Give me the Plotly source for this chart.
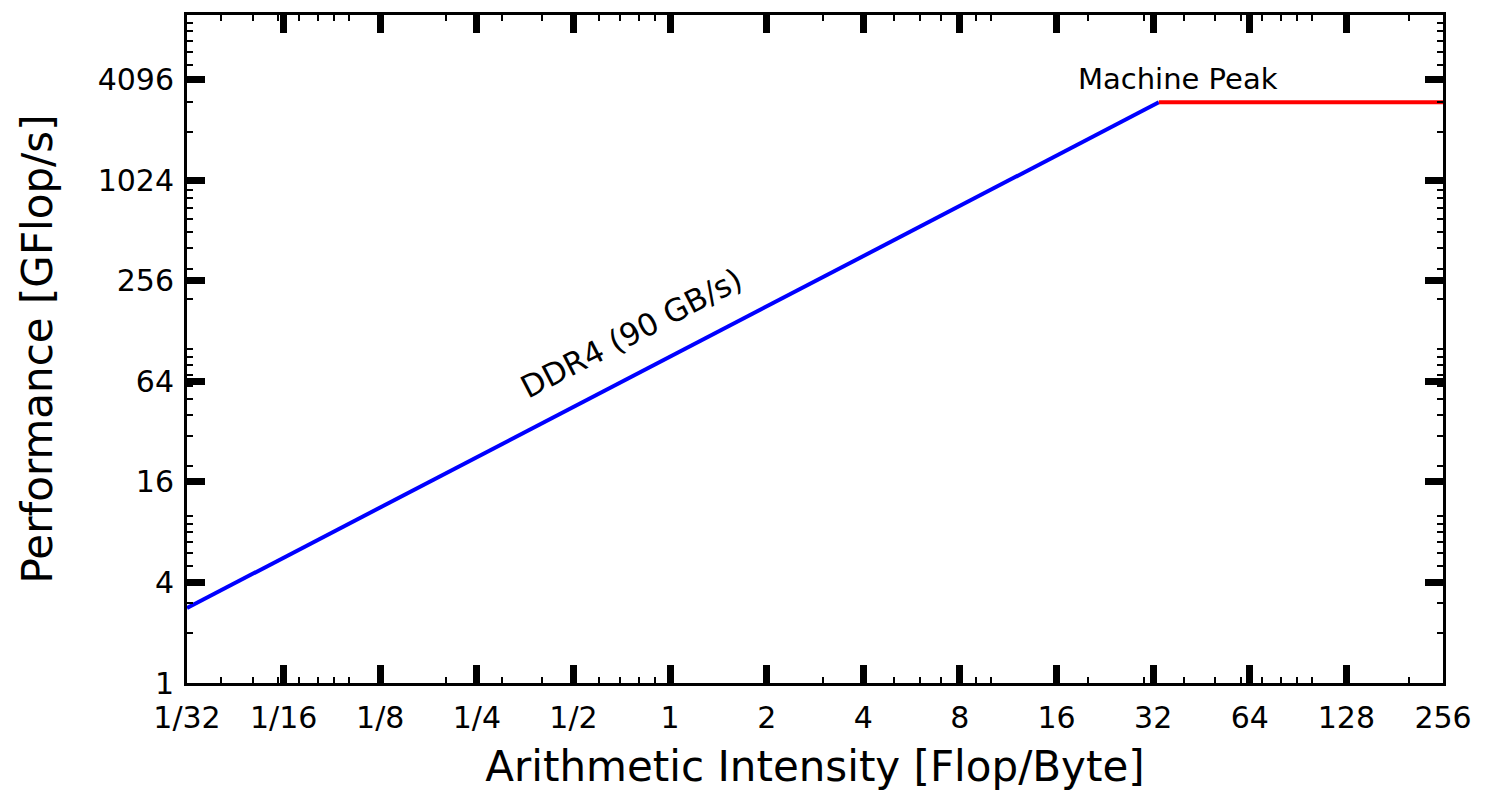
import numpy as np
import plotly.graph_objects as go

# ---- data ----
ai_tickvals = [1/32, 1/16, 1/8, 1/4, 1/2, 1, 2, 4, 8, 16, 32, 64, 128, 256]
ai_ticktext = ["1/32", "1/16", "1/8", "1/4", "1/2", "1", "2", "4", "8", "16", "32", "64", "128", "256"]
perf_tickvals = [1, 4, 16, 64, 256, 1024, 4096]
perf_ticktext = ["1", "4", "16", "64", "256", "1024", "4096"]
bandwidth_gbs = 90      # DDR4 bandwidth
peak_gflops = 3000      # machine peak
ai_min, ai_max = 1/32, 256
perf_min, perf_max = 1, 10000

ridge = peak_gflops / bandwidth_gbs
mem_x = [ai_min, ridge]
mem_y = [bandwidth_gbs * v for v in mem_x]
peak_x = [ridge, ai_max]
peak_y = [peak_gflops, peak_gflops]

def minor_vals(lo, hi, exclude):
    out = []
    for k in range(-3, 6):
        for d in range(1, 10):
            v = d * 10.0 ** k
            if lo < v < hi and all(abs(np.log2(v) - np.log2(e)) > 0.02 for e in exclude):
                out.append(v)
    return out

FONT = "DejaVu Sans"

fig = go.Figure()
fig.add_trace(go.Scatter(x=mem_x, y=mem_y, mode="lines",
                         line=dict(color="#0000ff", width=4), showlegend=False))
fig.add_trace(go.Scatter(x=peak_x, y=peak_y, mode="lines",
                         line=dict(color="#ff0000", width=4), showlegend=False))

fig.add_annotation(x=np.log10(ridge * 1.15), y=np.log10(peak_gflops), text="Machine Peak",
                   showarrow=False, yanchor="bottom", yshift=4,
                   font=dict(family=FONT, size=29, color="black"))
lab_x = 0.78
fig.add_annotation(x=np.log10(lab_x), y=np.log10(bandwidth_gbs * lab_x), text="DDR4 (90 GB/s)",
                   showarrow=False, textangle=-27.4, yshift=42, xshift=-4,
                   font=dict(family=FONT, size=31, color="black"))

axis_common = dict(
    type="log", showgrid=False, zeroline=False,
    showline=True, linecolor="black", linewidth=3, mirror="allticks",
    ticks="inside", ticklen=18, tickwidth=7, tickcolor="black",
    tickfont=dict(family=FONT, size=30, color="black"),
)

fig.update_xaxes(**axis_common,
                 range=[np.log10(ai_min), np.log10(ai_max)],
                 tickmode="array", tickvals=ai_tickvals, ticktext=ai_ticktext,
                 ticklabelstandoff=6,
                 minor=dict(tickmode="array", tickvals=minor_vals(ai_min, ai_max, ai_tickvals),
                            ticks="inside", ticklen=6, tickwidth=1.5, tickcolor="black"),
                 title=dict(text="Arithmetic Intensity [Flop/Byte]",
                            font=dict(family=FONT, size=42, color="black"), standoff=18))
fig.update_yaxes(**axis_common,
                 range=[np.log10(perf_min), np.log10(perf_max)],
                 tickmode="array", tickvals=perf_tickvals, ticktext=perf_ticktext,
                 ticklabelstandoff=4,
                 minor=dict(tickmode="array", tickvals=minor_vals(perf_min, perf_max, perf_tickvals),
                            ticks="inside", ticklen=6, tickwidth=1.5, tickcolor="black"),
                 title=dict(text="Performance [GFlop/s]",
                            font=dict(family=FONT, size=42, color="black"), standoff=32))

fig.update_layout(
    width=1488, height=796,
    margin=dict(l=187, r=45, t=15, b=113),
    paper_bgcolor="white", plot_bgcolor="white",
)

fig.write_html("out.html")
